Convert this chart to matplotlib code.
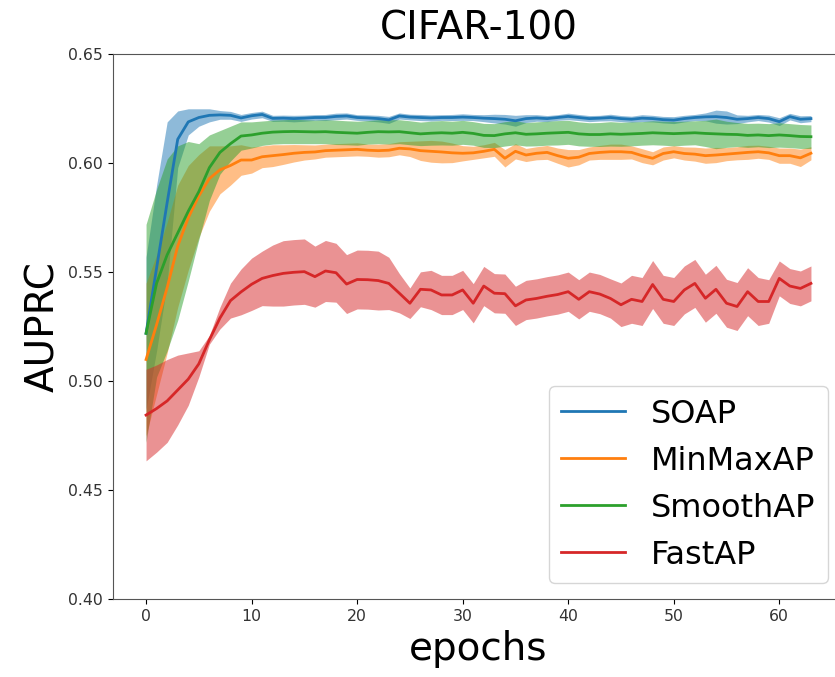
import numpy as np
import matplotlib
matplotlib.use("Agg")
import matplotlib.pyplot as plt

epochs = np.arange(64)

soap_mean = [0.522, 0.552, 0.582, 0.611, 0.619, 0.621, 0.622, 0.6222, 0.622, 0.6208,
             0.6218, 0.6224, 0.6206, 0.6207, 0.6205, 0.6207, 0.621, 0.621, 0.6215, 0.6217,
             0.621, 0.6208, 0.6205, 0.6199, 0.6217, 0.6212, 0.621, 0.6208, 0.621, 0.621,
             0.6212, 0.621, 0.6207, 0.6205, 0.6202, 0.6195, 0.6205, 0.6208, 0.6205, 0.621,
             0.6215, 0.621, 0.6205, 0.6207, 0.621, 0.6205, 0.6202, 0.6207, 0.6205, 0.62,
             0.6198, 0.6205, 0.621, 0.6213, 0.6214, 0.621, 0.6202, 0.6205, 0.621, 0.6205,
             0.6191, 0.6214, 0.6202, 0.6205]
soap_std = [0.035, 0.038, 0.037, 0.013, 0.006, 0.004, 0.003, 0.002, 0.0018, 0.0016,
            0.0015, 0.0015, 0.0014, 0.0014, 0.0015, 0.0014, 0.0013, 0.0014, 0.0015, 0.0014,
            0.0013, 0.0014, 0.0015, 0.0016, 0.0014, 0.0013, 0.0014, 0.0014, 0.0013, 0.0014,
            0.0015, 0.0014, 0.0016, 0.002, 0.0022, 0.0025, 0.0018, 0.0015, 0.0014, 0.0013,
            0.0015, 0.0014, 0.0014, 0.0013, 0.0015, 0.0014, 0.0014, 0.0016, 0.0015, 0.0015,
            0.0016, 0.0015, 0.0014, 0.0018, 0.003, 0.003, 0.002, 0.0015, 0.0014, 0.0016,
            0.0018, 0.0015, 0.0016, 0.0014]

minmax_mean = [0.510, 0.526, 0.543, 0.562, 0.575, 0.585, 0.593, 0.597, 0.599, 0.6015,
               0.6015, 0.603, 0.6035, 0.604, 0.6046, 0.605, 0.6052, 0.6058, 0.606, 0.6062,
               0.6064, 0.606, 0.6058, 0.606, 0.6069, 0.6066, 0.6058, 0.6055, 0.6052, 0.6048,
               0.6046, 0.6048, 0.6055, 0.6064, 0.6023, 0.6055, 0.6038, 0.6046, 0.605, 0.6035,
               0.6023, 0.6028, 0.6045, 0.605, 0.6053, 0.6053, 0.605, 0.6035, 0.6023, 0.6045,
               0.6053, 0.6045, 0.6042, 0.6035, 0.6038, 0.6042, 0.6046, 0.605, 0.6053, 0.6048,
               0.6035, 0.6035, 0.6025, 0.6046]
minmax_std = [0.035, 0.032, 0.030, 0.028, 0.024, 0.019, 0.015, 0.011, 0.009, 0.007,
              0.006, 0.005, 0.005, 0.0045, 0.004, 0.0035, 0.0032, 0.003, 0.003, 0.003,
              0.003, 0.0028, 0.003, 0.003, 0.003, 0.0035, 0.0045, 0.005, 0.005, 0.0045,
              0.0035, 0.003, 0.003, 0.0032, 0.004, 0.0035, 0.003, 0.003, 0.0032, 0.0035,
              0.004, 0.0035, 0.003, 0.0032, 0.0035, 0.0035, 0.003, 0.0032, 0.003, 0.003,
              0.0028, 0.003, 0.0032, 0.0035, 0.0035, 0.003, 0.003, 0.0032, 0.003, 0.003,
              0.0035, 0.0035, 0.004, 0.003]

smooth_mean = [0.522, 0.545, 0.558, 0.568, 0.578, 0.587, 0.598, 0.605, 0.609, 0.6125,
               0.613, 0.6138, 0.6143, 0.6145, 0.6146, 0.6145, 0.6144, 0.6145, 0.6142, 0.614,
               0.6138, 0.6142, 0.6145, 0.6144, 0.6145, 0.614, 0.6135, 0.6138, 0.614, 0.6138,
               0.6142, 0.6137, 0.6128, 0.6127, 0.6135, 0.614, 0.6133, 0.6135, 0.6138, 0.614,
               0.6142, 0.6135, 0.6132, 0.6132, 0.6135, 0.6133, 0.6135, 0.6137, 0.614, 0.6138,
               0.6136, 0.6138, 0.614, 0.6137, 0.6135, 0.6133, 0.6132, 0.6128, 0.613, 0.6127,
               0.613, 0.6127, 0.6123, 0.6122]
smooth_std = [0.050, 0.043, 0.044, 0.040, 0.032, 0.022, 0.015, 0.010, 0.008, 0.0065,
              0.006, 0.0056, 0.0055, 0.0055, 0.0056, 0.0055, 0.0054, 0.0055, 0.0056, 0.0055,
              0.0055, 0.0054, 0.0055, 0.0056, 0.0055, 0.0055, 0.0054, 0.0055, 0.0056, 0.0055,
              0.0055, 0.0054, 0.0055, 0.0055, 0.0056, 0.0055, 0.0054, 0.0055, 0.0055, 0.0056,
              0.0055, 0.0055, 0.0054, 0.0055, 0.0056, 0.0055, 0.0055, 0.0054, 0.0055, 0.0055,
              0.0056, 0.0055, 0.0055, 0.006, 0.0068, 0.006, 0.0055, 0.0055, 0.0054, 0.0055,
              0.0056, 0.0055, 0.0055, 0.0054]

fast_mean = [0.4845, 0.4875, 0.491, 0.496, 0.501, 0.508, 0.519, 0.529, 0.537, 0.541,
             0.5445, 0.5472, 0.5485, 0.5495, 0.550, 0.5503, 0.548, 0.5506, 0.5498, 0.5446,
             0.5467, 0.5466, 0.5462, 0.5449, 0.5404, 0.5358, 0.5422, 0.5419, 0.5396, 0.5396,
             0.5419, 0.5358, 0.5437, 0.5404, 0.5402, 0.5346, 0.5373, 0.538, 0.539, 0.5398,
             0.5411, 0.5376, 0.5411, 0.540, 0.538, 0.5351, 0.5376, 0.5366, 0.5444, 0.5376,
             0.5366, 0.5419, 0.5449, 0.5381, 0.5422, 0.5358, 0.5343, 0.5411, 0.5366, 0.5366,
             0.5472, 0.5437, 0.5426, 0.5449]
fast_std = [0.021, 0.020, 0.019, 0.016, 0.012, 0.006, 0.002, 0.005, 0.008, 0.0105,
            0.012, 0.0125, 0.014, 0.015, 0.015, 0.015, 0.014, 0.014, 0.0135, 0.0135,
            0.0135, 0.0135, 0.0135, 0.012, 0.009, 0.007, 0.008, 0.009, 0.009, 0.009,
            0.009, 0.009, 0.009, 0.009, 0.009, 0.009, 0.009, 0.009, 0.009, 0.009,
            0.009, 0.009, 0.009, 0.009, 0.009, 0.01, 0.011, 0.011, 0.011, 0.011,
            0.011, 0.011, 0.011, 0.011, 0.011, 0.011, 0.011, 0.011, 0.011, 0.010,
            0.008, 0.008, 0.008, 0.008]

labels = ["SOAP", "MinMaxAP", "SmoothAP", "FastAP"]
colors = ["#1f77b4", "#ff7f0e", "#2ca02c", "#d62728"]
means = [soap_mean, minmax_mean, smooth_mean, fast_mean]
stds = [soap_std, minmax_std, smooth_std, fast_std]

fig = plt.figure(figsize=(8.35, 6.77), dpi=100)
ax = fig.add_axes([0.1351, 0.1148, 0.8759, 0.805])

for lab, col, m, s in zip(labels, colors, means, stds):
    m = np.array(m)
    s = np.array(s)
    ax.plot(epochs, m, color=col, lw=2.0, label=lab)
    ax.fill_between(epochs, m - s, m + s, color=col, alpha=0.5, lw=0)

ax.set_ylim(0.40, 0.65)
ax.set_yticks([0.40, 0.45, 0.50, 0.55, 0.60, 0.65])
ax.set_xticks([0, 10, 20, 30, 40, 50, 60])
ax.tick_params(labelsize=11.3, labelcolor="#333333")
for sp in ax.spines.values():
    sp.set_color("#555555")
ax.set_title("CIFAR-100", fontsize=28, pad=11)
ax.set_xlabel("epochs", fontsize=28)
ax.set_ylabel("AUPRC", fontsize=28)
ax.legend(loc="lower right", fontsize=23)

fig.savefig("out.png", dpi=100)
